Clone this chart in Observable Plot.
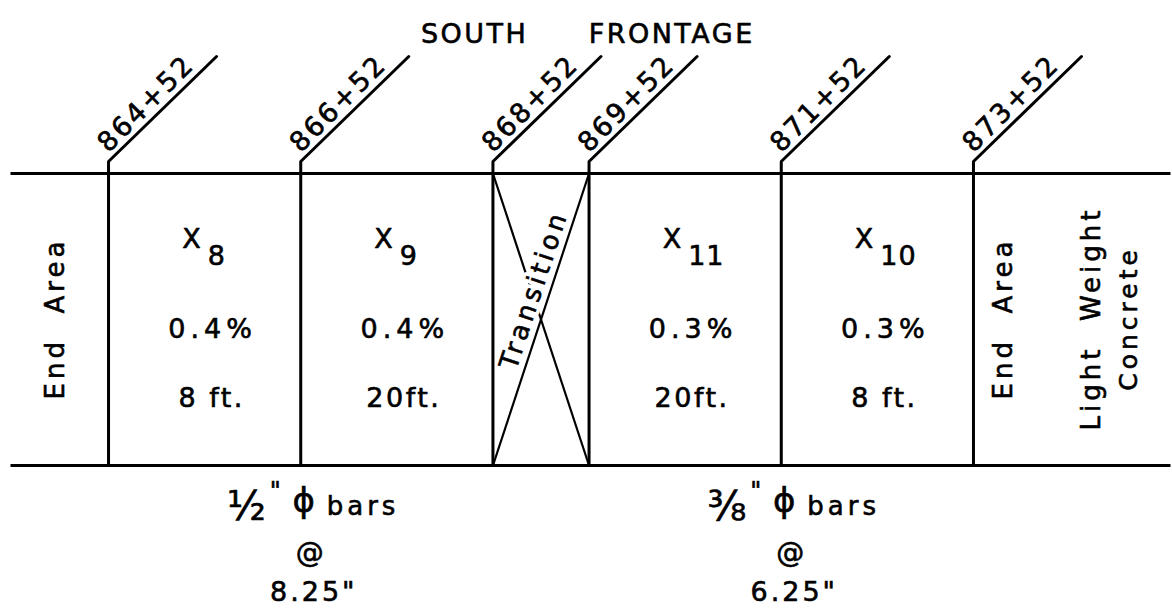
<!DOCTYPE html>
<html><head><meta charset="utf-8">
<script src="https://cdn.jsdelivr.net/npm/d3@7"></script>
<script src="https://cdn.jsdelivr.net/npm/@observablehq/plot@0.6"></script>
<style>html,body{margin:0;padding:0;background:#fff;} svg{display:block;}</style>
</head><body><div id="chart"></div>
<script>
// ---- data ----
const stations = [864.52, 866.52, 868.52, 869.52, 871.52, 873.52];
const stationLabels = ["864+52", "866+52", "868+52", "869+52", "871+52", "873+52"];
const cellStart = [864.52, 866.52, 869.52, 871.52];
const cellEnd = [866.52, 868.52, 871.52, 873.52];
const cellSymbols = ["X", "X", "X", "X"];
const cellSubscripts = ["8", "9", "11", "10"];
const steelRatios = ["0.4%", "0.4%", "0.3%", "0.3%"];
const cellLengths = ["8 ft.", "20ft.", "20ft.", "8 ft."];
const transitionLabel = ["Transition"];
const transitionStations = [868.52, 869.52];
const titleWords = ["SOUTH", "FRONTAGE"];
const titleStations = [868.33, 870.38];
const sideLabels = ["End\u00A0\u00A0Area", "End\u00A0\u00A0Area", "Light\u00A0\u00A0Weight", "Concrete"];
const sideStations = [863.97, 873.83, 874.75, 875.14];
const barFractions = ["\u00BD", "\u215C"];
const barInch = ["\"", "\""];
const barPhi = ["\u03D5", "\u03D5"];
const barWords = ["bars", "bars"];
const barAt = ["@", "@"];
const barSpacings = ["8.25\"", "6.25\""];
const barStations = [866.52, 871.52];
const stripExtent = [863.50, 875.57];

// ---- drawing levels (drawing units, downward) ----
const yTop = 173, yBottom = 465, yBend = 161, yLeaderTop = 56, leaderRun = 1.124;

const cells = cellStart.map((s, i) => ({
  mid: (s + cellEnd[i]) / 2, sym: cellSymbols[i], sub: cellSubscripts[i],
  pct: steelRatios[i], len: cellLengths[i]
}));
const horizontals = [yTop, yBottom].map(y => ({x1: stripExtent[0], x2: stripExtent[1], y}));
const posts = stations.flatMap((s, i) => [
  {id: i, x: s, y: yBottom}, {id: i, x: s, y: yBend}, {id: i, x: s + leaderRun, y: yLeaderTop}
]);
const [tA, tB] = transitionStations;
const diagDown = [{x1: tA, y1: yTop, x2: tB, y2: yBottom}];
const diagUp = [{x1: tA, y1: yBottom, x2: tB, y2: yTop}];
const tFrac = 0.585;
const transitionAnchor = [{x: tA + (tB - tA) * tFrac, y: yBottom - (yBottom - yTop) * tFrac, t: transitionLabel[0]}];
const transitionAngle = -Math.atan2(yBottom - yTop, 96.11 * (tB - tA)) * 180 / Math.PI;

const font = "DejaVu Sans";
const spacing = [];
function T(data, opts, ls) {
  spacing.push(ls);
  return Plot.text(data, {fontFamily: font, fill: "black", stroke: "black", strokeWidth: 0.6, ...opts});
}
const tOpts = {x: "x", y: "y", text: "t", rotate: transitionAngle, textAnchor: "middle", lineAnchor: "middle",
  fontSize: 26, dx: -15.2, dy: -4.9};
const byStation = (d, i) => barStations[i];

const svg = Plot.plot({
  width: 1172, height: 612, margin: 0,
  x: {domain: [863.396, 875.591], range: [0, 1172], axis: null},
  y: {domain: [0, 612], range: [0, 612], axis: null},
  style: {background: "white", color: "black", fontFamily: font},
  marks: [
    Plot.link(horizontals, {x1: "x1", x2: "x2", y1: "y", y2: "y", stroke: "black", strokeWidth: 3}),
    Plot.link(diagDown, {x1: "x1", y1: "y1", x2: "x2", y2: "y2", stroke: "black", strokeWidth: 2.2}),
    T(transitionAnchor, {...tOpts, fill: "white", stroke: "white", strokeWidth: 8}, "4px"),
    Plot.link(diagUp, {x1: "x1", y1: "y1", x2: "x2", y2: "y2", stroke: "black", strokeWidth: 2.2}),
    T(transitionAnchor, tOpts, "4px"),
    Plot.line(posts, {x: "x", y: "y", z: "id", stroke: "black", strokeWidth: 3, strokeLinejoin: "miter", curve: "linear"}),
    T(stations, {x: d => d, y: yBend, text: (d, i) => stationLabels[i], rotate: -45, textAnchor: "start",
      lineAnchor: "bottom", fontSize: 27, dx: 0, dy: -8}, "2.5px"),
    T(titleWords, {x: (d, i) => titleStations[i], y: 42, text: d => d, textAnchor: "middle", lineAnchor: "bottom", fontSize: 27}, "2.5px"),
    T(cells, {x: "mid", y: 247, text: "sym", textAnchor: "end", lineAnchor: "bottom", fontSize: 27, dx: -4}, "0px"),
    T(cells, {x: "mid", y: 264, text: "sub", textAnchor: "start", lineAnchor: "bottom", fontSize: 27, dx: 3}, "1px"),
    T(cells, {x: "mid", y: 337, text: "pct", textAnchor: "middle", lineAnchor: "bottom", fontSize: 27, dx: 8}, "5px"),
    T(cells, {x: "mid", y: 406, text: "len", textAnchor: "middle", lineAnchor: "bottom", fontSize: 27, dx: 7}, "2.5px"),
    T(sideLabels, {x: (d, i) => sideStations[i], y: 318, text: d => d, rotate: -90, textAnchor: "middle", lineAnchor: "middle",
      fontSize: (d, i) => (i === 3 ? 25 : 26)}, "4px"),
    T(barFractions, {x: byStation, y: 519, text: d => d, textAnchor: "end", lineAnchor: "bottom", fontSize: 40, dx: -35}, "0px"),
    T(barInch, {x: byStation, y: 498, text: d => d, textAnchor: "start", lineAnchor: "bottom", fontSize: 24, dx: -31}, "0px"),
    T(barPhi, {x: byStation, y: 511, text: d => d, textAnchor: "middle", lineAnchor: "bottom", fontSize: 34, dx: 3}, "0px"),
    T(barWords, {x: byStation, y: 514, text: d => d, textAnchor: "start", lineAnchor: "bottom", fontSize: 26, dx: 26}, "4px"),
    T(barAt, {x: byStation, y: 561, text: d => d, textAnchor: "middle", lineAnchor: "bottom", fontSize: 28, dx: 9}, "0px"),
    T(barSpacings, {x: byStation, y: 600, text: d => d, textAnchor: "middle", lineAnchor: "bottom", fontSize: 27, dx: 13}, "3px")
  ]
});
d3.select(svg).selectAll('g[aria-label="text"]').each(function(d, i) {
  if (spacing[i]) this.setAttribute("letter-spacing", spacing[i]);
});
document.getElementById("chart").appendChild(svg);
</script>
</body></html>
